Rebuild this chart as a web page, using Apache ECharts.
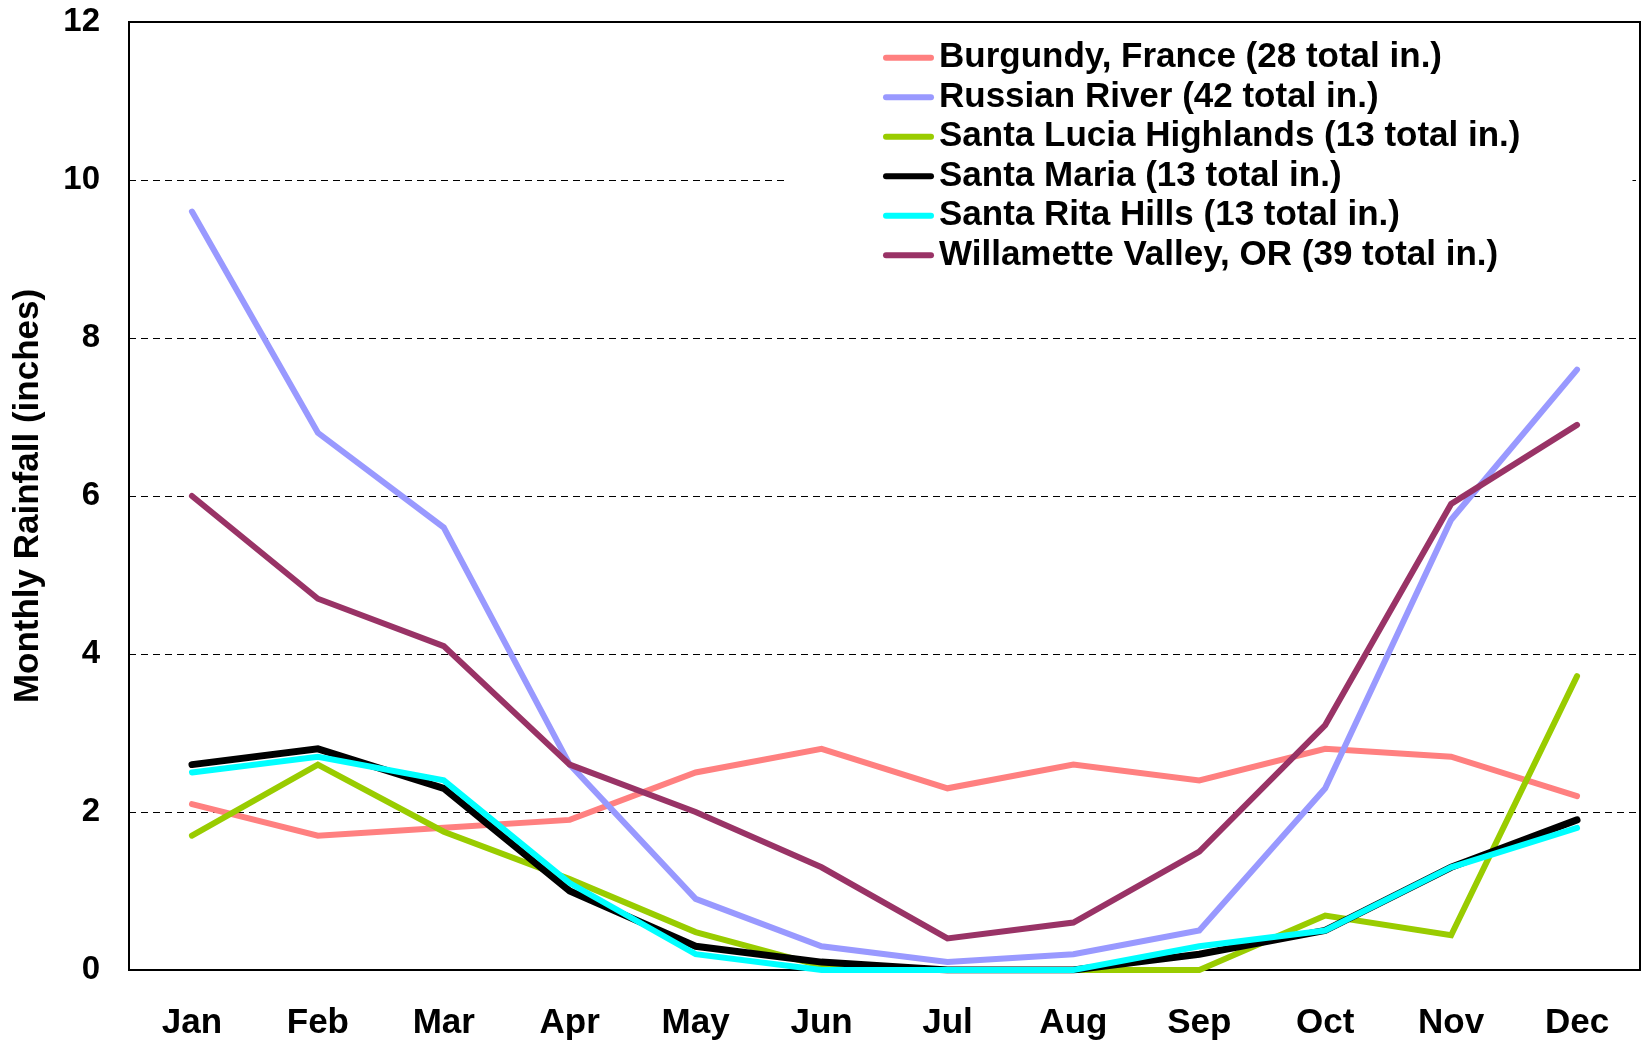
<!DOCTYPE html>
<html>
<head>
<meta charset="utf-8">
<script src="https://cdn.jsdelivr.net/npm/echarts@6/dist/echarts.min.js"></script>
<style>
html,body{margin:0;padding:0;background:#fff;}
#chart{width:1651px;height:1044px;}
</style>
</head>
<body>
<div id="chart"></div>
<script>
const months = ['Jan','Feb','Mar','Apr','May','Jun','Jul','Aug','Sep','Oct','Nov','Dec'];
const yTicks = [0, 2, 4, 6, 8, 10, 12];
const seriesNames = [
  'Burgundy, France (28 total in.)',
  'Russian River (42 total in.)',
  'Santa Lucia Highlands (13 total in.)',
  'Santa Maria (13 total in.)',
  'Santa Rita Hills (13 total in.)',
  'Willamette Valley, OR (39 total in.)'
];
const burgundy    = [2.1, 1.7, 1.8, 1.9, 2.5, 2.8, 2.3, 2.6, 2.4, 2.8, 2.7, 2.2];
const russianRiver= [9.6, 6.8, 5.6, 2.6, 0.9, 0.3, 0.1, 0.2, 0.5, 2.3, 5.7, 7.6];
const santaLucia  = [1.7, 2.6, 1.75, 1.15, 0.48, 0.05, 0, 0, 0, 0.69, 0.44, 3.72];
const santaMaria  = [2.6, 2.8, 2.3, 1.0, 0.3, 0.1, 0, 0, 0.2, 0.5, 1.3, 1.9];
const santaRita   = [2.5, 2.7, 2.4, 1.1, 0.2, 0, 0, 0, 0.3, 0.5, 1.3, 1.8];
const willamette  = [6.0, 4.7, 4.1, 2.6, 2.0, 1.3, 0.4, 0.6, 1.5, 3.1, 5.9, 6.9];

const seriesData = [burgundy, russianRiver, santaLucia, santaMaria, santaRita, willamette];
const colors = ['#FF8080', '#9999FF', '#99CC00', '#000000', '#00FFFF', '#993366'];
const widths = [6, 6, 6, 7, 6, 6];

const FONT = '"Liberation Sans", Arial, sans-serif';
const chart = echarts.init(document.getElementById('chart'), null, {renderer: 'canvas'});

chart.setOption({
  animation: false,
  backgroundColor: '#fff',
  grid: {
    left: 129, right: 11, top: 22, bottom: 74,
    show: true, borderColor: '#000', borderWidth: 2, backgroundColor: 'transparent'
  },
  legend: {
    orient: 'vertical',
    left: 784, top: 24,
    padding: [14, 112, 6, 99],
    backgroundColor: '#fff',
    itemGap: 0,
    itemWidth: 51, itemHeight: 6,
    icon: 'path://M3,0 L48,0 A3,3 0 0 1 48,6 L3,6 A3,3 0 0 1 3,0 Z',
    textStyle: {fontFamily: FONT, fontWeight: 'bold', fontSize: 35, color: '#000', lineHeight: 39.5},
    data: seriesNames
  },
  xAxis: {
    type: 'category',
    data: months,
    boundaryGap: true,
    axisLine: {show: true, lineStyle: {color: '#000', width: 2}},
    axisTick: {show: false},
    axisLabel: {fontFamily: FONT, fontWeight: 'bold', fontSize: 35, color: '#000', margin: 36},
    splitLine: {show: false}
  },
  yAxis: {
    type: 'value',
    min: yTicks[0], max: yTicks[yTicks.length - 1], interval: 2,
    name: 'Monthly Rainfall (inches)',
    nameLocation: 'middle',
    nameGap: 83,
    nameTextStyle: {fontFamily: FONT, fontWeight: 'bold', fontSize: 35, color: '#000'},
    axisLine: {show: true, lineStyle: {color: '#000', width: 2}},
    axisTick: {show: false},
    axisLabel: {fontFamily: FONT, fontWeight: 'bold', fontSize: 33, color: '#000', margin: 29},
    splitLine: {show: true, lineStyle: {color: '#000', width: 1, type: [7, 5]}}
  },
  series: seriesNames.map((n, i) => ({
    name: n,
    type: 'line',
    data: seriesData[i],
    symbol: 'none',
    showSymbol: false,
    color: colors[i],
    itemStyle: {color: colors[i]},
    lineStyle: {color: colors[i], width: widths[i], cap: 'round', join: 'miter'},
    emphasis: {disabled: true}
  }))
});
</script>
</body>
</html>
